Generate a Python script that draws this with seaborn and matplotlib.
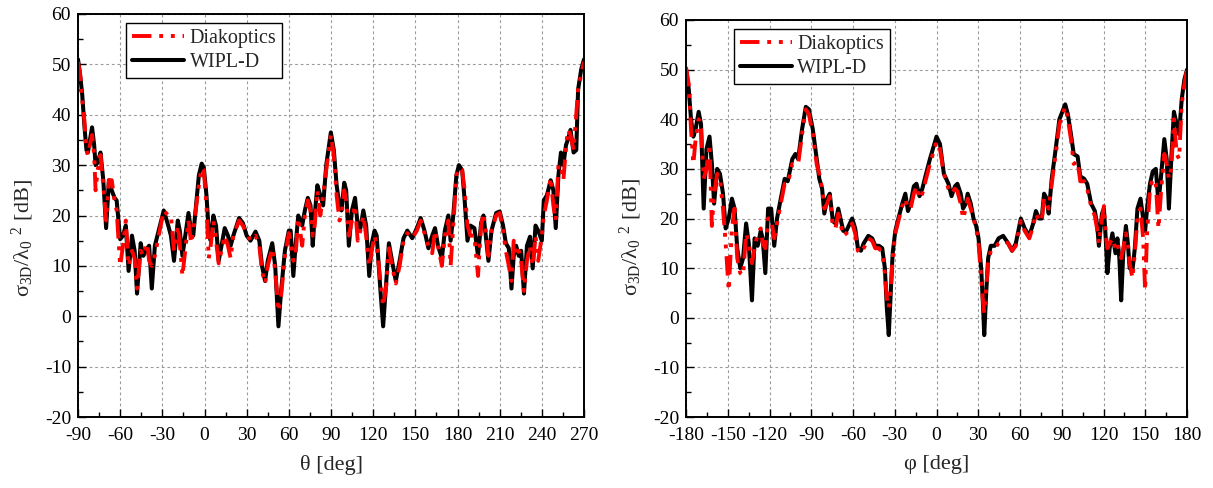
import numpy as np
import pandas as pd
import matplotlib
matplotlib.use("Agg")
import matplotlib.pyplot as plt
from matplotlib.ticker import MultipleLocator
import seaborn as sns

# ---------------- data ----------------
theta = [
    -90, -88.5, -87, -85.5, -84, -83, -81.5, -80, -78.5, -77.5,
    -76, -74, -72, -70, -68, -66, -64, -62.5, -60, -58,
    -56, -54, -51.6, -49.7, -48, -45.4, -43.5, -40.7, -39.4, -37.5,
    -35.3, -32.6, -29, -25.8, -23.9, -21.7, -19, -17.6, -15.7, -11.4,
    -9.5, -8, -6.7, -4, -2, -0.5, 1.4, 3, 4.4, 6.3,
    8.2, 10.1, 14.4, 16.7, 18.6, 20.5, 24.6, 27.3, 30, 32.7,
    36.3, 39, 40.9, 43.1, 45, 48.2, 50.3, 52.6, 54.5, 57.2,
    60, 61.3, 63.2, 64.8, 66.7, 69.5, 71.4, 73.5, 75.4, 77,
    78.4, 80.3, 82.4, 84.4, 86.6, 89.9, 92, 94, 96, 97.5,
    99.4, 100.8, 102.7, 104.9, 107.1, 109, 110.9, 113, 115, 117.2,
    119, 121, 122.5, 125.2, 127.1, 129.3, 131.2, 133.4, 136.1, 138.8,
    141.6, 144.3, 147.8, 151.1, 153.8, 156.5, 159.3, 162, 164, 166.1,
    168.9, 171, 173.5, 175.1, 177, 179.2, 181, 183.3, 185.1, 187.1,
    189.2, 192, 194.6, 196.8, 198.5, 200.1, 202, 204.2, 207.5, 210,
    212.4, 214.4, 216.5, 218.4, 220, 221.7, 223.6, 225.3, 227.3, 229.4,
    231.6, 233.5, 235.5, 237.4, 240, 241.4, 243.6, 246.3, 248.2, 249.9,
    251.8, 253.6, 255.3, 257.2, 258.5, 260.4, 262.6, 264.5, 265.8, 268,
    270,
]
wipl_theta = [
    51, 48, 44, 38, 33, 32.5, 35, 37.5, 34, 30,
    30.5, 32.5, 27, 17.5, 27, 25, 23.5, 23, 15.3, 16,
    18, 9, 16, 13, 4.5, 14.5, 12, 13.5, 14, 5.5,
    14, 17, 21, 18, 16, 11, 19, 17, 12, 20.5,
    17, 16, 20, 28, 30.3, 29.5, 24, 17, 15, 20,
    18, 11, 17.5, 16, 14, 16, 19.5, 18.5, 16, 15,
    16.8, 15, 10, 7, 11, 14.5, 10, -2, 5, 13,
    17, 17, 8, 14, 20, 18, 21, 23.5, 22, 14,
    20, 26, 24, 22, 30, 36.5, 33, 26, 22, 21,
    26.5, 25, 14, 21, 23.5, 18, 17.5, 21, 18, 8,
    14.5, 17, 16, 5, -2, 7, 14.5, 11, 7, 11,
    15.5, 17, 15.5, 17.5, 19.5, 17, 13.5, 16, 17.5, 14,
    11.5, 17, 20, 15, 20, 28, 30, 29, 23, 15,
    18, 17.5, 12, 18.5, 20, 16, 11, 17, 20.5, 20.8,
    18, 14.5, 13.5, 5.5, 12, 14, 12, 13, 4.5, 14,
    15.8, 9.5, 18, 17, 15, 23, 24, 27, 25, 17.5,
    28, 32.5, 30, 34, 35, 37, 32.5, 33, 45, 49,
    51,
]
diak_theta = [
    50.5, 48, 43, 39, 33, 32, 34, 36, 32, 25,
    29, 32, 26, 19, 27, 27, 23, 21, 10, 14,
    19, 10, 13, 11.5, 5.5, 13, 12, 14.5, 11, 10,
    12, 16, 21, 20, 20, 13, 18, 14.5, 8, 19,
    14.5, 17, 20, 26, 29.5, 29, 22, 11.5, 14, 19,
    15, 10.5, 16, 14, 11.5, 16, 19, 18, 16.5, 15,
    16, 14, 9, 6.5, 10, 13.5, 9, 1, 4, 12,
    16.5, 15, 11, 12, 19.5, 14, 20, 23, 21, 16,
    18, 25, 20, 24, 29, 36, 32, 24, 19, 20,
    25, 23, 16, 19, 22, 15, 17, 20, 16, 10,
    13, 16, 14, 7, 2, 6, 13.5, 10, 6.5, 10,
    15, 16.5, 15.5, 17, 19, 16.5, 14, 12.5, 17, 14,
    10, 16, 19, 10, 18, 28, 29.5, 29, 25, 18,
    16, 16, 8, 18, 20.5, 17, 12, 17, 20, 20.5,
    17, 13, 10, 7, 15, 12, 13, 11, 5, 11,
    14, 10, 16, 11, 16, 20, 23, 27.5, 22, 19,
    30, 30, 27, 33.5, 37, 36, 33, 40, 45, 48,
    50.5,
]

phi = [
    -180, -178, -176.4, -174.7, -173.1, -170.9, -169.2, -167.3, -165.3, -163.1,
    -161.4, -159.8, -157.6, -155.6, -153.4, -151.5, -149.3, -147, -145.1, -143.2,
    -141, -139, -136.8, -134.9, -132.6, -130.7, -128.5, -126.3, -124.9, -123,
    -121, -118.8, -116.6, -114.6, -111.9, -109.1, -106.9, -103.6, -101.4, -99.4,
    -96.6, -93.9, -91.7, -88.9, -86.1, -84.2, -82.2, -80.6, -78.6, -76.7,
    -74.5, -72.6, -70.6, -69, -67, -64.8, -60.6, -58.4, -56.5, -54.3,
    -52.3, -49, -46.2, -44, -41.3, -39, -37.1, -35.7, -34.3, -32.9,
    -31.5, -29.6, -27.4, -24.6, -22.4, -20.5, -18.6, -16.3, -14.4, -12.2,
    -10.2, -7.5, -4.7, 0, 2.5, 5.3, 8.6, 10.8, 13.3, 15,
    17.4, 19.1, 21, 22.4, 24.6, 26.6, 28.5, 30.2, 32.1, 33.5,
    34.3, 35.7, 37.1, 39, 41.8, 44.6, 47.9, 51.5, 54.3, 57,
    60.6, 63.4, 66.7, 69.5, 71.4, 73.7, 75.6, 77.3, 79.2, 80.6,
    82.8, 86.1, 88.3, 92.5, 94.4, 96.6, 98.6, 101.4, 103.3, 106.1,
    108.3, 111.1, 113.8, 115.3, 116.7, 118.9, 120.3, 121.6, 122.8, 124.4,
    126.4, 128.6, 130, 131.4, 132.7, 134.2, 136.1, 137.5, 138.8, 140.8,
    142.5, 144.4, 146.6, 148.5, 149.9, 151.3, 153.4, 155.4, 157.6, 159.5,
    161.5, 163.7, 165.4, 167, 168.7, 170.6, 172.6, 174.3, 176.2, 178.1,
    180,
]
wipl_phi = [
    50, 46, 40, 36.5, 38, 41.5, 39, 22, 34, 36.5,
    31, 23, 30, 29, 25, 18, 20, 24, 22, 14,
    10, 12, 19, 15, 3.5, 16, 14.5, 17.5, 16, 9,
    22, 22, 14.5, 20, 24, 28, 27.5, 32, 33, 32,
    38, 42.5, 42, 38, 32, 28, 26, 21, 24, 25,
    19.5, 19, 22, 20, 17.5, 17.5, 20, 18, 14, 13.5,
    15, 16.5, 16, 14.5, 14.5, 14, 10, 2, -3.5, 5,
    13, 17.5, 20, 23, 25, 21.5, 23, 26.5, 27, 24.5,
    26, 29, 32, 36.5, 35, 29, 27, 24.5, 26.5, 27,
    25, 22, 23, 25, 23, 20, 18.5, 16, 10, 2,
    -3.5, 5, 12, 14.5, 14.5, 16, 16.5, 15, 13.5, 15,
    20, 18, 16.5, 19, 21.5, 20, 20, 25, 24, 21,
    28, 35, 40, 43, 41, 37, 33, 32.5, 28.5, 28,
    27, 23, 21.5, 19, 14.5, 21, 22, 16, 9, 14,
    17, 13, 16, 12, 3.5, 13, 18.5, 15, 10, 9.5,
    14, 22, 24, 20, 17.5, 22, 27, 29.5, 30, 23,
    29, 36, 32, 22, 32, 41.5, 39, 37, 44, 48,
    50,
]
diak_phi = [
    50.5, 47, 38, 31, 36, 40, 38, 28, 30, 35,
    18.5, 25, 29, 28, 22, 15, 5.5, 18, 22, 12,
    9, 8.5, 17, 15, 11, 14, 17, 18, 15, 14,
    20, 20, 16, 19, 23, 27, 27, 31, 31, 31,
    37, 42, 41, 37, 31, 29, 26, 22, 23, 24.5,
    18.5, 18, 21, 19, 16.5, 17, 19, 17, 13.5, 13,
    14, 16, 15.5, 14, 14, 13, 9, 4, 2, 6,
    12, 17, 19.5, 22.5, 24, 22, 22, 25, 26.5, 24,
    25, 28, 31, 35.5, 34, 29, 26, 25, 26, 25.5,
    23, 20, 22, 24, 22, 20, 18, 15, 8, 3,
    1, 6, 11, 13.5, 14, 15, 15.5, 15, 13.5, 14.5,
    19.5, 17.5, 16, 18.5, 21, 19.5, 19.5, 24, 23, 22,
    27, 34, 39, 42.5, 40, 36, 31, 31.5, 27.5, 27.5,
    26, 22.5, 20.5, 18, 15, 20, 22.5, 17, 14, 15,
    16, 14, 15, 13, 12, 14, 17, 15, 11, 8,
    13, 20, 22, 16, 5.5, 17, 26, 28, 27, 18,
    26, 33, 31, 28, 30, 40, 33, 32, 43, 47,
    50,
]

x_ticks_left = [-90, -60, -30, 0, 30, 60, 90, 120, 150, 180, 210, 240, 270]
x_ticks_right = [-180, -150, -120, -90, -60, -30, 0, 30, 60, 90, 120, 150, 180]
y_ticks = [-20, -10, 0, 10, 20, 30, 40, 50, 60]
series_names = ["Diakoptics", "WIPL-D"]

# ---------------- style ----------------
sns.set_theme(style="ticks")
plt.rcParams["font.family"] = ["Liberation Serif", "DejaVu Serif"]
plt.rcParams["mathtext.fontset"] = "custom"
plt.rcParams["mathtext.rm"] = "Liberation Serif"
plt.rcParams["mathtext.it"] = "Liberation Serif:italic"
plt.rcParams["axes.unicode_minus"] = False

W, H = 1213, 488
fig = plt.figure(figsize=(W / 100, H / 100), dpi=100)
ax1 = fig.add_axes([78 / W, 1 - 417 / H, 506 / W, 403 / H])
ax2 = fig.add_axes([686 / W, 1 - 417 / H, 501 / W, 397 / H])

ylabel = r"σ$_{\mathregular{3D}}$/λ$_{\mathregular{0}}$ $^{\mathregular{2}}$ [dB]"
dash_pat = (5, 2, 1, 2, 1, 2)


def draw(ax, x, wipl, diak, xticks, xlabel, ylab_y):
    df = pd.DataFrame({"x": x, "WIPL-D": wipl, "Diakoptics": diak})
    sns.lineplot(data=df, x="x", y="WIPL-D", ax=ax, color="black", lw=2.9,
                 estimator=None, sort=False, label="WIPL-D", legend=False)
    sns.lineplot(data=df, x="x", y="Diakoptics", ax=ax, color="#ff0000", lw=2.8,
                 estimator=None, sort=False, label="Diakoptics", legend=False)
    lb, lr = ax.lines[0], ax.lines[1]
    lr.set_dashes(dash_pat)
    for ln in (lb, lr):
        ln.set_solid_joinstyle("round")
        ln.set_dash_joinstyle("round")
    ax.set_xlim(xticks[0], xticks[-1])
    ax.set_ylim(y_ticks[0], y_ticks[-1])
    ax.set_xticks(xticks)
    ax.set_yticks(y_ticks)
    ax.xaxis.set_minor_locator(MultipleLocator(15))
    ax.yaxis.set_minor_locator(MultipleLocator(5))
    ax.tick_params(which="both", direction="in", top=False, right=False,
                   colors="black", width=1.0)
    ax.tick_params(which="major", length=6)
    ax.tick_params(which="minor", length=3.5)
    ax.tick_params(axis="x", which="major", pad=7, labelsize=14)
    ax.tick_params(axis="y", which="major", pad=5, labelsize=14)
    ax.grid(True, which="major", color="#9a9a9a", linestyle=(0, (2.5, 2.5)), lw=0.8)
    ax.set_axisbelow(True)
    for sp in ax.spines.values():
        sp.set_color("black")
        sp.set_linewidth(1.4)
        sp.set_visible(True)
    ax.set_xlabel(xlabel, fontsize=16, labelpad=8)
    ax.set_ylabel(ylabel, fontsize=16)
    ax.yaxis.set_label_coords(-0.083, ylab_y)
    leg = ax.legend(handles=[lr, lb], labels=series_names, loc="upper left",
                    bbox_to_anchor=(0.095, 0.978), fontsize=14.5, frameon=True,
                    fancybox=False, framealpha=1, edgecolor="black",
                    handlelength=2.6, handletextpad=0.25, labelspacing=0.25,
                    borderpad=0.3, borderaxespad=0.0)
    leg.get_frame().set_linewidth(1.0)


draw(ax1, theta, wipl_theta, diak_theta, x_ticks_left, "θ [deg]", 0.444)
draw(ax2, phi, wipl_phi, diak_phi, x_ticks_right, "φ [deg]", 0.453)

fig.savefig("out.png", dpi=100, facecolor="white")
